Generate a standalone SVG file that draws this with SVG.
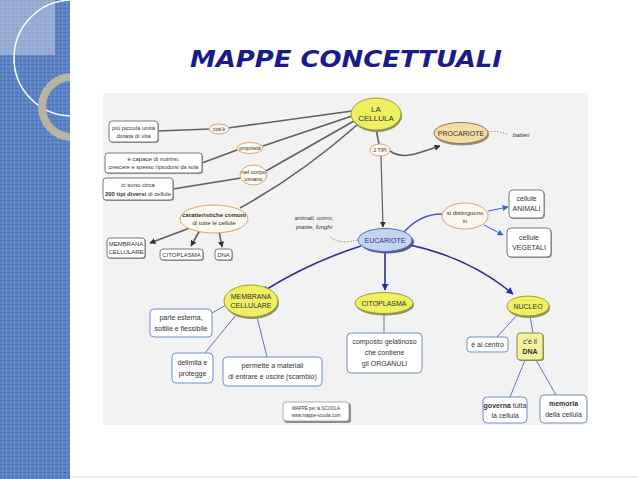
<svg xmlns="http://www.w3.org/2000/svg" width="638" height="479" viewBox="0 0 638 479">
<defs>
<style>
text{font-family:"Liberation Sans",Arial,sans-serif;fill:#333;text-anchor:middle}
.t6{font-size:6px}
.t7{font-size:7px}
.t8{font-size:8px}
.b{font-weight:bold}
.box{fill:#fff;stroke:#7a7a7a;stroke-width:1}
.boxb{fill:#fff;stroke:#6f8fc6;stroke-width:1}
.sh{fill:#9a9a9a}
.lab{fill:#fbf8f0;stroke:#d9a46e;stroke-width:1}
.yel{fill:#eef062;stroke:#9e9e40;stroke-width:1}
.gl{fill:none;stroke:#606060;stroke-width:1.6}
.bl{fill:none;stroke:#2b2ea0;stroke-width:1.6}
.lb{fill:none;stroke:#5a78bd;stroke-width:1}
.dot{fill:none;stroke:#888;stroke-width:1;stroke-dasharray:1.5 1.5}
</style>
<marker id="ag" viewBox="0 0 10 10" refX="9" refY="5" markerWidth="6" markerHeight="6" orient="auto" markerUnits="userSpaceOnUse"><path d="M0,0 L10,5 L0,10 z" fill="#333"/></marker>
<marker id="ab" viewBox="0 0 10 10" refX="9" refY="5" markerWidth="7" markerHeight="7" orient="auto" markerUnits="userSpaceOnUse"><path d="M0,0 L10,5 L0,10 z" fill="#2b2ea0"/></marker>
<marker id="al" viewBox="0 0 10 10" refX="9" refY="5" markerWidth="6" markerHeight="6" orient="auto" markerUnits="userSpaceOnUse"><path d="M0,0 L10,5 L0,10 z" fill="#3a64c8"/></marker>
<pattern id="tex" width="4" height="4" patternUnits="userSpaceOnUse"><rect width="4" height="4" fill="#5d82c4"/><rect width="2" height="1" fill="#4b6fb2"/><rect x="2" y="2" width="1" height="2" fill="#7295d2"/></pattern>
<clipPath id="strip"><rect x="0" y="0" width="70" height="479"/></clipPath>
</defs>
<rect width="638" height="479" fill="#fff"/>
<g id="strip-bg" clip-path="url(#strip)">
<rect x="0" y="0" width="70" height="479" fill="url(#tex)"/>
<rect x="0" y="0" width="55" height="55" fill="#c4cfe0" opacity="0.55"/>
<circle cx="72" cy="58" r="58" fill="none" stroke="#fff" stroke-width="1.5"/>
<circle cx="72" cy="107" r="30" fill="none" stroke="#b8b4a2" stroke-width="8"/>
</g>
<line x1="70" y1="477" x2="638" y2="477" stroke="#d6dde9" stroke-width="1"/>
<text x="346" y="67" style="font-family:'DejaVu Sans',sans-serif;font-size:23px;font-weight:bold;font-style:italic;fill:#1b1b8e" textLength="312" lengthAdjust="spacingAndGlyphs">MAPPE CONCETTUALI</text>
<rect x="103" y="93" width="485" height="332" fill="#f2f2f2"/>

<g id="connectors">
<path class="gl" d="M158,131 L210,129"/>
<path class="gl" d="M228,128 L352,111"/>
<path class="gl" d="M202,163 L237,150"/>
<path class="gl" d="M263,146 L352,116"/>
<path class="gl" d="M173,189 L241,178"/>
<path class="gl" d="M266,171 L354,121"/>
<path class="gl" d="M240,208 Q300,175 357,125"/>
<path class="gl" d="M195,226 L150,243" marker-end="url(#ag)"/>
<path class="gl" d="M200,230 L191,246" marker-end="url(#ag)"/>
<path class="gl" d="M219,231 L222,247" marker-end="url(#ag)"/>
<path class="gl" d="M376,129 L379,144"/>
<path class="gl" style="stroke-width:1.2" d="M381,156 L383,227" marker-end="url(#ag)"/>
<path class="gl" d="M390,151 Q400,158 415,154 Q428,150 440,146" marker-end="url(#ag)"/>
<path class="dot" d="M488,132 Q498,130 508,135"/>
<path class="dot" d="M330,237 Q342,245 357,240"/>
<path class="lb" style="stroke-width:1.3;stroke:#4056b0" d="M404,232 Q420,214 442,214"/>
<path class="lb" style="stroke:#3a64c8" d="M488,211 L508,207" marker-end="url(#al)"/>
<path class="lb" style="stroke:#3a64c8" d="M484,225 L503,235" marker-end="url(#al)"/>
<path class="bl" d="M361,246 Q310,262 262,292" marker-end="url(#ab)"/>
<path class="bl" d="M385,252 L385,290" marker-end="url(#ab)"/>
<path class="bl" d="M410,245 Q470,258 513,294" marker-end="url(#ab)"/>
<path class="lb" d="M226,305 L212,313"/>
<path class="lb" d="M236,315 L205,353"/>
<path class="lb" d="M257,317 L267,357"/>
<path class="lb" d="M384,313 L384,333"/>
<path class="lb" d="M518,314 L497,337"/>
<path class="lb" d="M530,316 L533,333"/>
<path class="lb" d="M525,360 L510,397"/>
<path class="lb" d="M536,360 L556,395"/>
</g>

<g id="piu-piccola">
<rect class="sh" x="110" y="122" width="49" height="21" rx="3"/>
<rect class="box" x="109" y="121" width="49" height="21" rx="3"/>
<text class="t6" x="133.5" y="130">più piccola unità</text>
<text class="t6" x="133.5" y="138">dotata di vita</text>
</g>
<g id="cose">
<ellipse class="lab" cx="219" cy="129" rx="10" ry="5"/>
<text class="t6" x="219" y="131" style="font-size:5.5px">cos'è</text>
</g>
<g id="proprieta">
<ellipse class="lab" cx="250" cy="148" rx="13" ry="5.5"/>
<text class="t6" x="250" y="150" style="font-size:5.5px">proprietà</text>
</g>
<g id="capace">
<rect class="sh" x="106" y="154" width="97" height="20" rx="3"/>
<rect class="box" x="105" y="153" width="97" height="20" rx="3"/>
<text class="t6" x="153.5" y="161">è capace di nutrirsi,</text>
<text class="t6" x="153.5" y="169" textLength="90" lengthAdjust="spacingAndGlyphs">crescere e spesso riprodursi da sola</text>
</g>
<g id="corpo">
<ellipse class="lab" cx="253.5" cy="175" rx="13.5" ry="10"/>
<text class="t6" x="253.5" y="174">nel corpo</text>
<text class="t6" x="253.5" y="181">umano</text>
</g>
<g id="circa">
<rect class="sh" x="104" y="179" width="70" height="22" rx="3"/>
<rect class="box" x="103" y="178" width="70" height="22" rx="3"/>
<text class="t6" x="138" y="187">ci sono circa</text>
<text class="t6" x="138" y="196" textLength="66" lengthAdjust="spacingAndGlyphs"><tspan class="b">200 tipi diversi</tspan> di cellule</text>
</g>
<g id="caratteristiche">
<ellipse class="lab" cx="214" cy="219" rx="34" ry="14"/>
<text class="t6 b" x="214" y="217">caratteristiche comuni</text>
<text class="t6" x="214" y="225">di tutte le cellule</text>
</g>
<g id="membrana-top">
<rect class="sh" x="108" y="239" width="38" height="20" rx="3"/>
<rect class="box" x="107" y="238" width="38" height="20" rx="3"/>
<text class="t6" x="126" y="246">MEMBRANA</text>
<text class="t6" x="126" y="254">CELLULARE</text>
</g>
<g id="citoplasma-top">
<rect class="sh" x="161" y="250" width="43" height="11" rx="3"/>
<rect class="box" x="160" y="249" width="43" height="11" rx="3"/>
<text class="t6" x="181.5" y="257">CITOPLASMA</text>
</g>
<g id="dna-top">
<rect class="sh" x="216" y="250" width="17" height="11" rx="3"/>
<rect class="box" x="215" y="249" width="17" height="11" rx="3"/>
<text class="t6" x="223.5" y="257">DNA</text>
</g>
<g id="cellula">
<ellipse cx="377" cy="116" rx="25" ry="16" fill="#8f8f60"/>
<ellipse class="yel" cx="376" cy="114" rx="25" ry="16"/>
<text class="t8" x="376" y="112">LA</text>
<text class="t8" x="376" y="121">CELLULA</text>
</g>
<g id="due-tipi">
<ellipse class="lab" cx="380" cy="150" rx="10" ry="6"/>
<text class="t6" x="380" y="152" style="font-size:5px">2 TIPI</text>
</g>
<g id="procariote">
<ellipse cx="462" cy="135" rx="27" ry="10.5" fill="#a09070"/>
<ellipse cx="461" cy="133" rx="27" ry="10.5" fill="#f5dba4" stroke="#8a7a58" stroke-width="1"/>
<text class="t7" x="461" y="136">PROCARIOTE</text>
</g>
<g id="batteri">
<text class="t6" x="521" y="137" style="font-style:italic">batteri</text>
</g>
<g id="eucariote">
<ellipse cx="387" cy="242" rx="27" ry="11.5" fill="#4b5f88"/>
<ellipse cx="385" cy="240" rx="27" ry="11.5" fill="#c4d4ef" stroke="#4d6fb5" stroke-width="1"/>
<text class="t7" x="385" y="243" style="fill:#2a3a80">EUCARIOTE</text>
</g>
<g id="animali-uomo">
<text class="t6" x="314" y="220" style="font-style:italic">animali, uomo,</text>
<text class="t6" x="314" y="229" style="font-style:italic">piante, funghi</text>
</g>
<g id="distinguono">
<ellipse class="lab" cx="465" cy="216" rx="23" ry="13"/>
<text class="t6" x="465" y="215">si distinguono</text>
<text class="t6" x="465" y="223">in</text>
</g>
<g id="animali">
<rect class="sh" x="510" y="191" width="35" height="28" rx="4"/>
<rect class="box" x="509" y="190" width="35" height="28" rx="4"/>
<text class="t7" x="526.5" y="201">cellule</text>
<text class="t7" x="526.5" y="211">ANIMALI</text>
</g>
<g id="vegetali">
<rect class="sh" x="508" y="229" width="44" height="29" rx="4"/>
<rect class="box" x="507" y="228" width="44" height="29" rx="4"/>
<text class="t7" x="529" y="240">cellule</text>
<text class="t7" x="529" y="250">VEGETALI</text>
</g>
<g id="membrana">
<ellipse cx="252" cy="303" rx="27" ry="16" fill="#8f8f60"/>
<ellipse class="yel" cx="251" cy="301" rx="27" ry="16"/>
<text class="t7" x="251" y="299">MEMBRANA</text>
<text class="t7" x="251" y="308">CELLULARE</text>
</g>
<g id="parte-esterna">
<rect class="boxb" x="150" y="309" width="62" height="28" rx="4"/>
<text class="t7" x="181" y="320">parte esterna,</text>
<text class="t7" x="181" y="331">sottile e flessibile</text>
</g>
<g id="delimita">
<rect class="boxb" x="172" y="353" width="41" height="30" rx="4"/>
<text class="t7" x="192.5" y="365">delimita e</text>
<text class="t7" x="192.5" y="376">protegge</text>
</g>
<g id="permette">
<rect class="boxb" x="223" y="357" width="99" height="29" rx="4"/>
<text class="t7" x="272.5" y="368">permette a materiali</text>
<text class="t7" x="272.5" y="379">di entrare e uscire (scambio)</text>
</g>
<g id="mappe-scuola">
<rect x="284" y="403" width="67" height="20" rx="3" fill="#8a8a8a"/>
<rect x="283" y="402" width="66" height="19" rx="3" fill="#fff" stroke="#999" stroke-width="0.8"/>
<text x="316" y="410" style="font-size:4.5px">MAPPE per la SCUOLA</text>
<text x="316" y="417" style="font-size:4.5px">www.mappe-scuola.com</text>
</g>
<g id="citoplasma">
<ellipse cx="385" cy="305" rx="29" ry="10.5" fill="#8f8f60"/>
<ellipse class="yel" cx="384" cy="303" rx="29" ry="10.5"/>
<text class="t7" x="384" y="306">CITOPLASMA</text>
</g>
<g id="composto">
<rect class="boxb" x="347" y="333" width="75" height="40" rx="4"/>
<text class="t7" x="384.5" y="344">composto gelatinoso</text>
<text class="t7" x="384.5" y="355">che contiene</text>
<text class="t7" x="384.5" y="366">gli ORGANULI</text>
</g>
<g id="nucleo">
<ellipse cx="529" cy="308" rx="21" ry="10" fill="#8f8f60"/>
<ellipse class="yel" cx="528" cy="306" rx="21" ry="10"/>
<text class="t7" x="528" y="309">NUCLEO</text>
</g>
<g id="centro">
<rect class="boxb" x="467" y="337" width="41" height="15" rx="3"/>
<text class="t7" x="487.5" y="347">è al centro</text>
</g>
<g id="dna">
<rect x="518" y="334" width="26" height="27" rx="3" fill="#8f8f60"/>
<rect x="517" y="333" width="26" height="27" rx="3" fill="#f3f0a0" stroke="#8a8a50" stroke-width="1"/>
<text class="t7" x="530" y="344">c'è il</text>
<text class="t7 b" x="530" y="354">DNA</text>
</g>
<g id="governa">
<rect class="boxb" x="483" y="397" width="44" height="26" rx="4"/>
<text class="t7" x="505" y="408"><tspan class="b">governa</tspan> tutta</text>
<text class="t7" x="505" y="418">la cellula</text>
</g>
<g id="memoria">
<rect class="boxb" x="540" y="395" width="47" height="28" rx="4"/>
<text class="t7 b" x="563.5" y="406">memoria</text>
<text class="t7" x="563.5" y="417">della cellula</text>
</g>
</svg>
